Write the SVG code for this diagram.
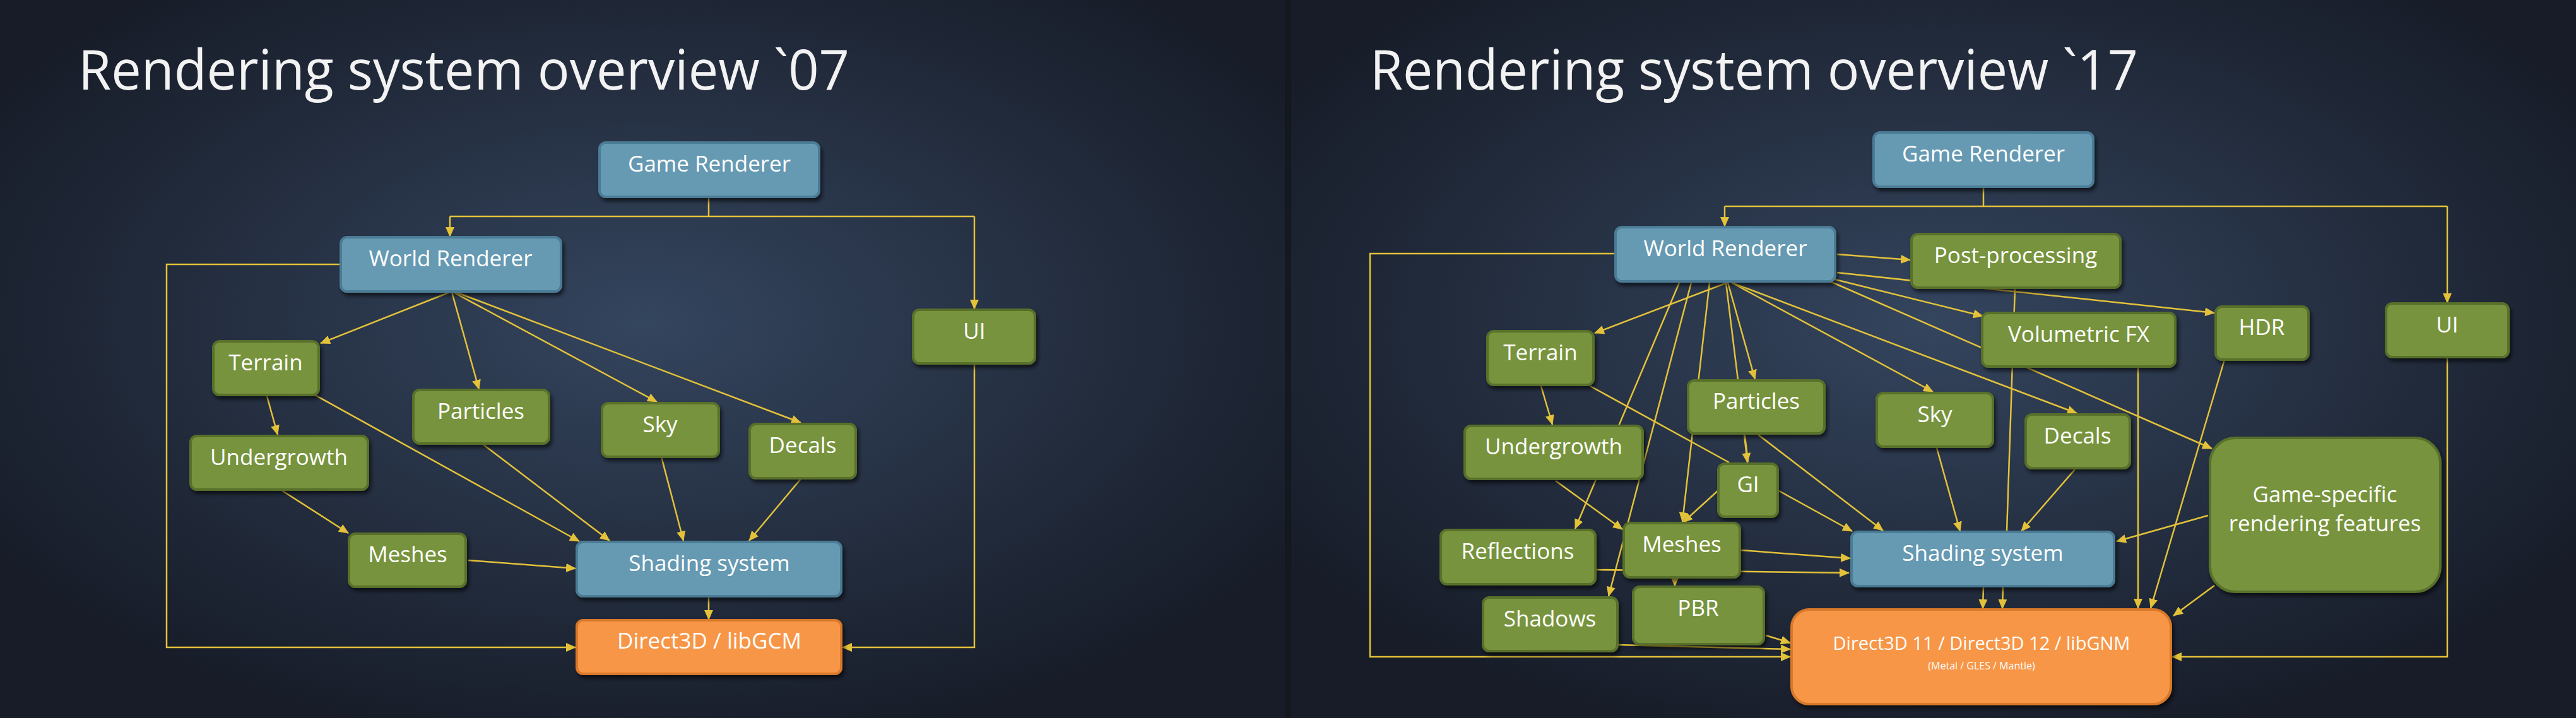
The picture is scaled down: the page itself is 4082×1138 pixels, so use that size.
<svg xmlns="http://www.w3.org/2000/svg" width="4082" height="1138" viewBox="0 0 4082 1138">
<defs>
<radialGradient id="bg1" cx="0.5" cy="0.45" r="0.6"><stop offset="0" stop-color="#34455e"/><stop offset="1" stop-color="#171c28"/></radialGradient>
<marker id="a" markerUnits="userSpaceOnUse" markerWidth="16" markerHeight="14" refX="15" refY="7" orient="auto"><path d="M0,0 L16,7 L0,14 z" fill="#e3c23a"/></marker>
<filter id="sh" x="-10%" y="-10%" width="130%" height="140%"><feDropShadow dx="3" dy="5" stdDeviation="3" flood-color="#000" flood-opacity="0.6"/></filter>
</defs>
<style>
.g rect{fill:#77933c;stroke:#58702c;stroke-width:4;filter:url(#sh)}
.b rect{fill:#6699b2;stroke:#4b7c96;stroke-width:4;filter:url(#sh)}
.o rect{fill:#f79646;stroke:#d8782c;stroke-width:4;filter:url(#sh)}
text{font-family:"Open Sans","Liberation Sans",sans-serif;fill:#ffffff;text-anchor:middle}
.n{font-size:35px}
.t{font-size:88px;text-anchor:start;fill:#f2f2f2}
#c line,#c polyline{stroke:#e3c23a;stroke-width:2.5;fill:none}
</style>
<rect x="0" y="0" width="2041" height="1138" fill="url(#bg1)"/>
<rect x="2041" y="0" width="2041" height="1138" fill="url(#bg1)"/>
<rect x="2036" y="0" width="10" height="1138" fill="#14181f"/>
<text class="t" x="124" y="142" textLength="1222" lengthAdjust="spacingAndGlyphs">Rendering system overview `07</text>
<text class="t" x="2171" y="142" textLength="1217" lengthAdjust="spacingAndGlyphs">Rendering system overview `17</text>
<g id="c">
<line x1="1123" y1="312" x2="1123" y2="343"/>
<polyline points="713,343 1544,343"/>
<line x1="713" y1="343" x2="713" y2="375" marker-end="url(#a)"/>
<line x1="1544" y1="343" x2="1544" y2="490" marker-end="url(#a)"/>
<polyline points="540,419 264,419 264,1026 912,1026" marker-end="url(#a)"/>
<polyline points="1544,576 1544,1026 1335,1026" marker-end="url(#a)"/>
<line x1="713" y1="463" x2="508" y2="544" marker-end="url(#a)"/>
<line x1="716" y1="463" x2="759" y2="617" marker-end="url(#a)"/>
<line x1="718" y1="463" x2="1041" y2="637" marker-end="url(#a)"/>
<line x1="722" y1="463" x2="1269" y2="670" marker-end="url(#a)"/>
<line x1="423" y1="628" x2="440" y2="689" marker-end="url(#a)"/>
<line x1="499" y1="626" x2="918" y2="858" marker-end="url(#a)"/>
<line x1="765" y1="704" x2="966" y2="857" marker-end="url(#a)"/>
<line x1="1048" y1="724" x2="1083" y2="857" marker-end="url(#a)"/>
<line x1="1269" y1="759" x2="1187" y2="857" marker-end="url(#a)"/>
<line x1="446" y1="777" x2="552" y2="845" marker-end="url(#a)"/>
<line x1="742" y1="888" x2="912" y2="901" marker-end="url(#a)"/>
<line x1="1123" y1="945" x2="1123" y2="982" marker-end="url(#a)"/>
<line x1="3143" y1="296" x2="3143" y2="327"/>
<polyline points="2733,327 3878,327"/>
<line x1="2733" y1="327" x2="2733" y2="359" marker-end="url(#a)"/>
<line x1="3878" y1="327" x2="3878" y2="480" marker-end="url(#a)"/>
<polyline points="2560,402 2171,402 2171,1041 2837,1041" marker-end="url(#a)"/>
<polyline points="3878,566 3878,1041 3442,1041" marker-end="url(#a)"/>
<line x1="2911" y1="403" x2="3027" y2="412" marker-end="url(#a)"/>
<line x1="2911" y1="432" x2="3509" y2="496" marker-end="url(#a)"/>
<line x1="2900" y1="441" x2="3142" y2="501" marker-end="url(#a)"/>
<line x1="2900" y1="446" x2="3505" y2="711" marker-end="url(#a)"/>
<line x1="3193" y1="457" x2="3180" y2="842"/>
<line x1="3388" y1="581" x2="3388" y2="964" marker-end="url(#a)"/>
<line x1="3525" y1="570" x2="3408" y2="964" marker-end="url(#a)"/>
<line x1="3509" y1="928" x2="3444" y2="976" marker-end="url(#a)"/>
<line x1="3499" y1="817" x2="3354" y2="858" marker-end="url(#a)"/>
<line x1="2737" y1="448" x2="2527" y2="528" marker-end="url(#a)"/>
<line x1="2735" y1="448" x2="2770" y2="732"/>
<line x1="2738" y1="448" x2="2781" y2="601" marker-end="url(#a)"/>
<line x1="2744" y1="448" x2="3063" y2="621" marker-end="url(#a)"/>
<line x1="2744" y1="448" x2="3291" y2="655" marker-end="url(#a)"/>
<line x1="2661" y1="448" x2="2496" y2="838" marker-end="url(#a)"/>
<line x1="2680" y1="448" x2="2549" y2="945" marker-end="url(#a)"/>
<line x1="2709" y1="448" x2="2666" y2="827" marker-end="url(#a)"/>
<line x1="2442" y1="612" x2="2460" y2="673" marker-end="url(#a)"/>
<line x1="2520" y1="612" x2="2740" y2="733"/>
<line x1="2764" y1="689" x2="2769" y2="733" marker-end="url(#a)"/>
<line x1="2465" y1="762" x2="2571" y2="839" marker-end="url(#a)"/>
<line x1="2786" y1="689" x2="2984" y2="841" marker-end="url(#a)"/>
<line x1="2819" y1="778" x2="2935" y2="842" marker-end="url(#a)"/>
<line x1="2723" y1="777" x2="2667" y2="828" marker-end="url(#a)"/>
<line x1="3069" y1="710" x2="3106" y2="842" marker-end="url(#a)"/>
<line x1="3288" y1="744" x2="3203" y2="842" marker-end="url(#a)"/>
<line x1="2759" y1="872" x2="2932" y2="885" marker-end="url(#a)"/>
<line x1="2530" y1="903" x2="2930" y2="908" marker-end="url(#a)"/>
<line x1="2654" y1="916" x2="2654" y2="929" marker-end="url(#a)"/>
<line x1="2563" y1="1022" x2="2837" y2="1029" marker-end="url(#a)"/>
<line x1="2798" y1="1007" x2="2837" y2="1019" marker-end="url(#a)"/>
<line x1="3143" y1="929" x2="3142" y2="965" marker-end="url(#a)"/>
<line x1="3174" y1="929" x2="3173" y2="965" marker-end="url(#a)"/>
</g>
<g id="l-game" class="b"><rect x="950" y="226" width="348" height="86" rx="10"/><text class="n" x="1124" y="272">Game Renderer</text></g>
<g id="l-world" class="b"><rect x="540" y="376" width="349" height="86" rx="10"/><text class="n" x="714" y="422">World Renderer</text></g>
<g id="l-terrain" class="g"><rect x="338" y="541" width="167" height="85" rx="10"/><text class="n" x="421" y="587">Terrain</text></g>
<g id="l-particles" class="g"><rect x="655" y="618" width="215" height="85" rx="10"/><text class="n" x="762" y="664">Particles</text></g>
<g id="l-sky" class="g"><rect x="954" y="639" width="185" height="85" rx="10"/><text class="n" x="1046" y="685">Sky</text></g>
<g id="l-decals" class="g"><rect x="1188" y="672" width="168" height="86" rx="10"/><text class="n" x="1272" y="718">Decals</text></g>
<g id="l-ui" class="g"><rect x="1447" y="491" width="193" height="85" rx="10"/><text class="n" x="1544" y="537">UI</text></g>
<g id="l-under" class="g"><rect x="302" y="691" width="281" height="85" rx="10"/><text class="n" x="442" y="737">Undergrowth</text></g>
<g id="l-meshes" class="g"><rect x="553" y="846" width="185" height="84" rx="10"/><text class="n" x="646" y="891">Meshes</text></g>
<g id="l-shading" class="b"><rect x="914" y="859" width="419" height="86" rx="10"/><text class="n" x="1124" y="905">Shading system</text></g>
<g id="l-d3d" class="o"><rect x="914" y="983" width="419" height="85" rx="10"/><text class="n" x="1124" y="1028">Direct3D / libGCM</text></g>
<g id="r-game" class="b"><rect x="2969" y="210" width="348" height="86" rx="10"/><text class="n" x="3143" y="256">Game Renderer</text></g>
<g id="r-world" class="b"><rect x="2560" y="360" width="348" height="86" rx="10"/><text class="n" x="2734" y="406">World Renderer</text></g>
<g id="r-post" class="g"><rect x="3029" y="371" width="331" height="85" rx="10"/><text class="n" x="3194" y="417">Post-processing</text></g>
<g id="r-vol" class="g"><rect x="3141" y="496" width="306" height="85" rx="10"/><text class="n" x="3294" y="542">Volumetric FX</text></g>
<g id="r-hdr" class="g"><rect x="3511" y="486" width="147" height="84" rx="10"/><text class="n" x="3584" y="531">HDR</text></g>
<g id="r-ui" class="g"><rect x="3781" y="481" width="194" height="85" rx="10"/><text class="n" x="3878" y="527">UI</text></g>
<g id="r-terrain" class="g"><rect x="2357" y="525" width="168" height="85" rx="10"/><text class="n" x="2441" y="571">Terrain</text></g>
<g id="r-particles" class="g"><rect x="2675" y="603" width="216" height="84" rx="10"/><text class="n" x="2783" y="648">Particles</text></g>
<g id="r-sky" class="g"><rect x="2974" y="623" width="184" height="85" rx="10"/><text class="n" x="3066" y="669">Sky</text></g>
<g id="r-decals" class="g"><rect x="3210" y="657" width="165" height="85" rx="10"/><text class="n" x="3292" y="703">Decals</text></g>
<g id="r-under" class="g"><rect x="2321" y="675" width="282" height="84" rx="10"/><text class="n" x="2462" y="720">Undergrowth</text></g>
<g id="r-gi" class="g"><rect x="2723" y="735" width="94" height="84" rx="10"/><text class="n" x="2770" y="780">GI</text></g>
<g id="r-game-specific" class="g"><rect x="3502" y="694" width="365" height="244" rx="40"/><text class="n" x="3684" y="796">Game-specific</text><text class="n" x="3684" y="842">rendering features</text></g>
<g id="r-refl" class="g"><rect x="2283" y="840" width="245" height="86" rx="10"/><text class="n" x="2405" y="886">Reflections</text></g>
<g id="r-meshes" class="g"><rect x="2573" y="829" width="184" height="86" rx="10"/><text class="n" x="2665" y="875">Meshes</text></g>
<g id="r-shading" class="b"><rect x="2934" y="843" width="416" height="86" rx="10"/><text class="n" x="3142" y="889">Shading system</text></g>
<g id="r-shadows" class="g"><rect x="2350" y="947" width="213" height="85" rx="10"/><text class="n" x="2456" y="993">Shadows</text></g>
<g id="r-pbr" class="g"><rect x="2588" y="930" width="207" height="91" rx="10"/><text class="n" x="2691" y="976">PBR</text></g>
<g id="r-d3d" class="o"><rect x="2839" y="966" width="601" height="150" rx="28"/><text x="3140" y="1030" font-size="29">Direct3D 11 / Direct3D 12 / libGNM</text><text x="3140" y="1061" font-size="16">(Metal / GLES / Mantle)</text></g>
</svg>
